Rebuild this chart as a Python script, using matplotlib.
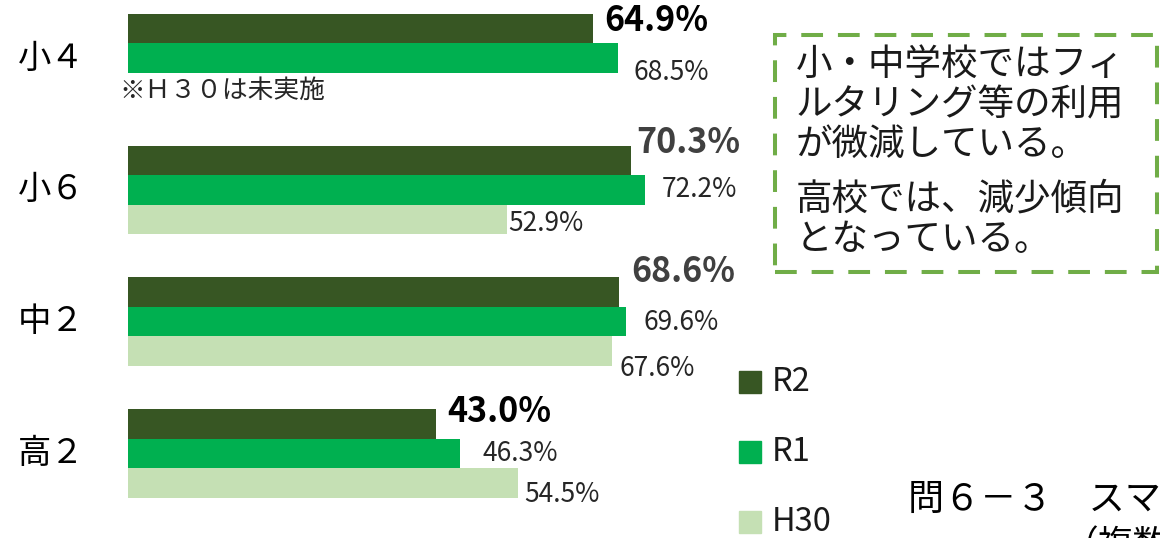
import numpy as np
import matplotlib
matplotlib.use("Agg")
import matplotlib.pyplot as plt
from matplotlib.patches import Rectangle

plt.rcParams['font.family'] = ['Noto Sans CJK JP', 'DejaVu Sans']

# ---- data ----
categories = ['小４', '小６', '中２', '高２']
series_names = ['R2', 'R1', 'H30']
r2 = [64.9, 70.3, 68.6, 43.0]
r1 = [68.5, 72.2, 69.6, 46.3]
h30 = [np.nan, 52.9, 67.6, 54.5]   # 小４ was not surveyed in H30

colors = ['#375623', '#00B050', '#C5E0B4']

# ---- layout helpers (figure pixels) ----
W, H = 1160, 538
fig = plt.figure(figsize=(W / 100, H / 100), dpi=100)


def fx(x):
    return x / W


def fy(y):
    return 1 - y / H


ax = fig.add_axes([fx(128), 0, 1 - fx(128), 1])
px_per_pct = 7.16
group_px = 131.83
bar_h = 29.5 / group_px
ax.set_xlim(0, (W - 128) / px_per_pct)
ax.set_ylim(3 + (H - 453.5) / group_px, -58 / group_px)

y = np.arange(len(categories))
offsets = [-bar_h, 0.0, bar_h]
all_series = [r2, r1, h30]
for vals, off, c in zip(all_series, offsets, colors):
    ax.barh(y + off, vals, height=bar_h, color=c, edgecolor='none')

ax.set_yticks(y, categories)
ax.tick_params(axis='y', length=0, pad=31, labelsize=24)
ax.set_xticks([])
for s in ax.spines.values():
    s.set_visible(False)
for t in ax.get_yticklabels():
    t.set_va('center')

# ---- value labels ----
pt = 0.72  # points per pixel at 100 dpi
label_shift = [
    [(12, -8), (5, -18), (12, -21), (11, -12)],   # R2
    [(15, 14), (17, 0), (17, 1), (23, 0)],        # R1
    [(0, 0), (1, 4), (7, 17), (6, 12)],           # H30
]
bold_colors = ['black', '#404040', '#404040', 'black']

for si, (vals, off) in enumerate(zip(all_series, offsets)):
    for gi, v in enumerate(vals):
        if np.isnan(v):
            continue
        dx, dy = label_shift[si][gi]
        if si == 0:
            kw = dict(fontsize=24.5, fontweight='bold', color=bold_colors[gi])
        else:
            kw = dict(fontsize=19, color='#262626')
        ax.annotate(f'{v:.1f}%', xy=(v, gi + off), xytext=(dx * pt, -dy * pt),
                    textcoords='offset points', ha='left', va='center', **kw)

fig.text(fx(119), fy(91), '※Ｈ３０は未実施', fontsize=18.5, color='#262626',
         ha='left', va='center')

# ---- comment box ----
box = Rectangle((fx(775), fy(272)), fx(1157) - fx(775), fy(35) - fy(272),
                transform=fig.transFigure, fill=False, edgecolor='#70AD47',
                linewidth=2.9, linestyle=(0, (5.4, 3.7)), clip_on=False)
fig.add_artist(box)
box_lines = [('小・中学校ではフィ', 65), ('ルタリング等の利用', 105),
             ('が微減している。', 145), ('高校では、減少傾向', 200),
             ('となっている。', 240)]
for txt, yy in box_lines:
    fig.text(fx(796), fy(yy), txt, fontsize=26.3, color='#1a1a1a',
             ha='left', va='center')

# ---- legend ----
leg_y = [382, 452, 522]
for name, c, yy in zip(series_names, colors, leg_y):
    fig.add_artist(Rectangle((fx(739), fy(yy + 11)), fx(22), 22 / H,
                             transform=fig.transFigure, color=c, clip_on=False))
    fig.text(fx(772), fy(yy), name, fontsize=23.5, color='#1a1a1a',
             ha='left', va='center')

# ---- title (runs into the right edge) ----
fig.text(fx(908), fy(500), '問６－３　スマ', fontsize=26,
         color='black', ha='left', va='center')
fig.text(fx(1064), fy(546), '（複数', fontsize=25,
         color='black', ha='left', va='center')

fig.savefig('out.png', dpi=100)
